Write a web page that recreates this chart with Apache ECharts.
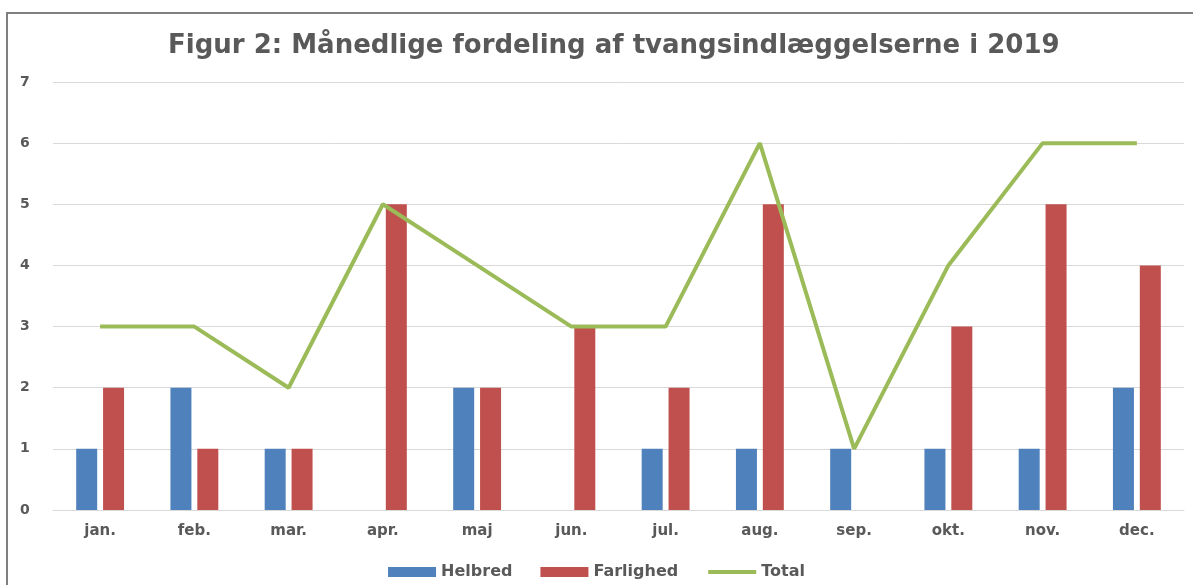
<!DOCTYPE html>
<html><head><meta charset="utf-8">
<script src="https://cdn.jsdelivr.net/npm/echarts@6/dist/echarts.min.js"></script>
<style>html,body{margin:0;padding:0;background:#fff}#c{width:1193px;height:585px}</style>
</head><body><div id="c"></div>
<script>
const categories = ['jan.','feb.','mar.','apr.','maj','jun.','jul.','aug.','sep.','okt.','nov.','dec.'];
const helbred = [1,2,1,0,2,0,1,1,1,1,1,2];
const farlighed = [2,1,1,5,2,3,2,5,0,3,5,4];
const total = [3,3,2,5,4,3,3,6,1,4,6,6];
const titleText = 'Figur 2: Månedlige fordeling af tvangsindlæggelserne i 2019';
const FONT = 'DejaVu Sans';
const chart = echarts.init(document.getElementById('c'));
chart.setOption({
  animation:false,
  backgroundColor:'#fff',
  graphic:[{type:'rect',shape:{x:7,y:13,width:1200,height:600},style:{fill:'none',stroke:'#7f7f7f',lineWidth:2},silent:true}],
  title:{text:titleText,left:163,top:28,textStyle:{fontFamily:FONT,fontWeight:'bold',fontSize:26,color:'#595959'}},
  grid:{left:53,right:9,top:82,bottom:75},
  legend:{bottom:0,left:'center',itemGap:28,itemWidth:48,itemHeight:10,
    textStyle:{fontFamily:FONT,fontWeight:'bold',fontSize:16,color:'#595959'},
    data:[{name:'Helbred',icon:'rect'},{name:'Farlighed',icon:'rect'},{name:'Total',itemStyle:{opacity:0},lineStyle:{width:4}}]},
  xAxis:{type:'category',data:categories,axisTick:{show:false},
    axisLine:{lineStyle:{color:'#d9d9d9'}},
    axisLabel:{fontFamily:FONT,fontWeight:'bold',fontSize:15,color:'#595959',margin:14}},
  yAxis:{type:'value',min:0,max:7,interval:1,axisLine:{show:false},axisTick:{show:false},
    splitLine:{lineStyle:{color:'#d9d9d9'}},
    axisLabel:{fontFamily:FONT,fontWeight:'bold',fontSize:14,color:'#595959',margin:33,align:'left'}},
  series:[
    {name:'Helbred',type:'bar',data:helbred,barWidth:21,barGap:'28%',itemStyle:{color:'#4F81BD'}},
    {name:'Farlighed',type:'bar',data:farlighed,barWidth:21,itemStyle:{color:'#C0504D'}},
    {name:'Total',type:'line',data:total,symbol:'none',lineStyle:{color:'#9BBB59',width:4},itemStyle:{color:'#9BBB59'}}
  ]
});
</script></body></html>
